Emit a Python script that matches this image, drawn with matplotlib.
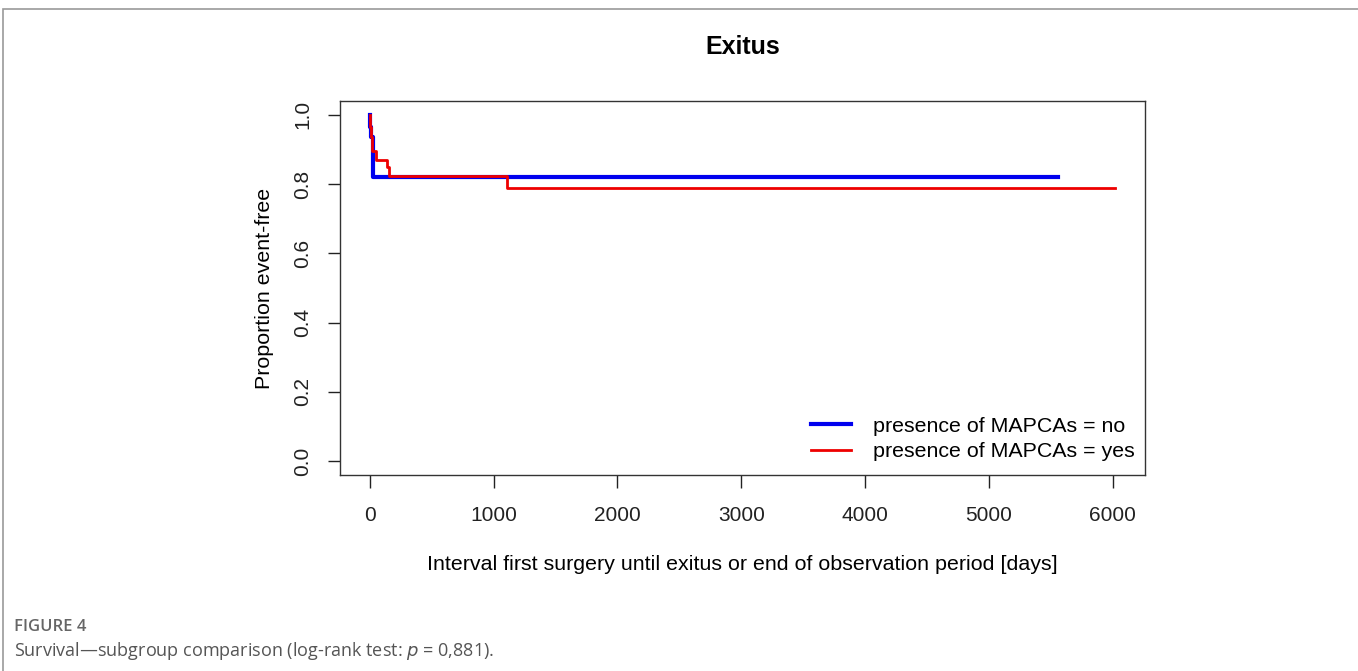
import matplotlib
matplotlib.use('Agg')
import matplotlib.pyplot as plt
from matplotlib.patches import Rectangle

# Kaplan-Meier step data
days_no = [0, 3, 8, 25, 5560]
surv_no = [1.0, 0.965, 0.935, 0.82, 0.82]

days_yes = [0, 4, 9, 18, 50, 140, 155, 1110, 6020]
surv_yes = [1.0, 0.965, 0.936, 0.895, 0.87, 0.848, 0.824, 0.79, 0.79]

x_ticks = [0, 1000, 2000, 3000, 4000, 5000, 6000]
y_ticks = [0.0, 0.2, 0.4, 0.6, 0.8, 1.0]
y_tick_labels = ['0.0', '0.2', '0.4', '0.6', '0.8', '1.0']

plt.rcParams['font.family'] = ['Liberation Sans', 'DejaVu Sans']

fig = plt.figure(figsize=(13.58, 6.71), dpi=100)

# grey frame round the figure panel
fig.patches.append(Rectangle((3 / 1358, -0.01), 1.0, 1 - 9 / 671 + 0.01,
                             transform=fig.transFigure, fill=False,
                             edgecolor='#9a9a9a', linewidth=1.2))

ax = fig.add_axes([340 / 1358, 1 - 475 / 671, 805 / 1358, 374 / 671])
ax.step(days_no, surv_no, where='post', color='#0000ee', linewidth=3,
        label='presence of MAPCAs = no')
ax.step(days_yes, surv_yes, where='post', color='#ee0000', linewidth=2,
        label='presence of MAPCAs = yes')

ax.set_xlim(-241, 6261)
ax.set_ylim(-0.04, 1.04)
ax.set_xticks(x_ticks)
ax.set_yticks(y_ticks)
ax.set_yticklabels(y_tick_labels, rotation=90, va='center')
ax.tick_params(axis='both', length=9, width=1, labelsize=15, colors='#222222')
ax.tick_params(axis='x', pad=13)
ax.tick_params(axis='y', pad=11)
for s in ax.spines.values():
    s.set_color('#333333')
    s.set_linewidth(1)

ax.set_xlabel('Interval first surgery until exitus or end of observation period [days]',
              fontsize=15.4, labelpad=22)
ax.set_ylabel('Proportion event-free', fontsize=15.4, labelpad=14)
ax.set_title('Exitus', fontsize=18, fontweight='bold', pad=34)

leg = ax.legend(loc='lower right', bbox_to_anchor=(1.0, 3 / 374), borderaxespad=0,
                fontsize=15.4, frameon=False, handlelength=1.9, handletextpad=1.0,
                borderpad=0.5, labelspacing=0.3)

fig.text(14 / 1358, 1 - 627 / 671, 'FIGURE 4', fontsize=12, color='#666666',
         family='Open Sans', fontweight='semibold', va='center')
fig.text(14 / 1358, 1 - 651 / 671,
         'Survival\u2014subgroup comparison (log-rank test: $\\it{p}$ = 0,881).',
         fontsize=13.0, color='#555555', family='Open Sans', va='center')

plt.savefig('out.png', dpi=100)
